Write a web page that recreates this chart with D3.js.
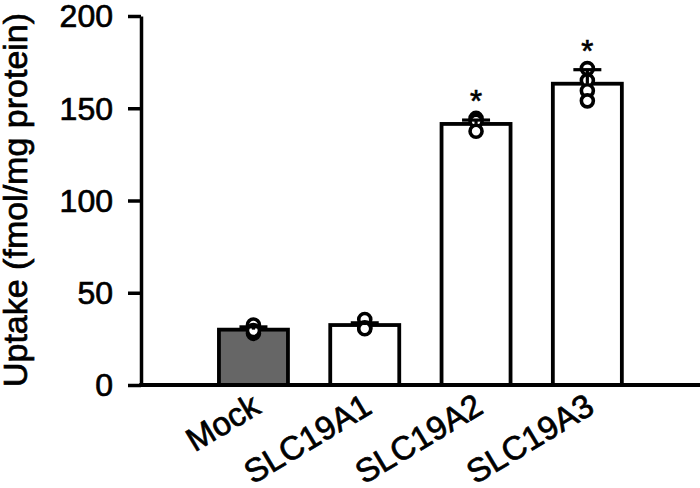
<!DOCTYPE html>
<html><head><meta charset="utf-8">
<script src="https://cdn.jsdelivr.net/npm/d3@7"></script>
<style>body{margin:0;background:#fff}svg{display:block}text{font-family:"Liberation Sans",Arial,sans-serif}</style>
</head><body>
<script>
const categories = ["Mock", "SLC19A1", "SLC19A2", "SLC19A3"];
const means = [30, 32.5, 141.5, 163.3];
const sds = [1.5, 1.2, 2.1, 7.6];
const points = [
  [32.5, 28, 29.5],
  [35.5, 31, 30.5],
  [144.5, 143, 137.5],
  [171.5, 165, 159.5, 154]
];
const significant = [false, false, true, true];
const fills = ["#666666", "#ffffff", "#ffffff", "#ffffff"];
const yTicks = [0, 50, 100, 150, 200];

const W = 700, H = 488;
const svg = d3.select("body").append("svg").attr("width", W).attr("height", H);

const y = d3.scaleLinear().domain([0, 200]).range([385, 16]);
const x = d3.scaleBand().domain(categories).range([197.8, 643]).paddingInner(0.38).paddingOuter(0.19);
const axisX = 141;
const txtStroke = 0.7;

// Y axis
const yAxis = svg.append("g").attr("transform", `translate(${axisX},0)`)
  .call(d3.axisLeft(y).tickValues(yTicks).tickSize(13).tickPadding(15).tickSizeOuter(0));
yAxis.select(".domain").attr("stroke", "#000").attr("stroke-width", 3.5);
yAxis.selectAll(".tick line").attr("stroke", "#000").attr("stroke-width", 3.5);
yAxis.selectAll(".tick text").attr("font-size", 32).attr("fill", "#000")
  .attr("stroke", "#000").attr("stroke-width", txtStroke).attr("dy", "0.34em")
  .attr("font-family", "'Liberation Sans', Arial, sans-serif");

// Y label
svg.append("text").attr("transform", "translate(27,200) rotate(-90)")
  .attr("text-anchor", "middle").attr("font-size", 34).attr("fill", "#000")
  .attr("stroke", "#000").attr("stroke-width", txtStroke)
  .text("Uptake (fmol/mg protein)");

// Bars
const g = svg.append("g");
g.selectAll("rect.bar").data(categories).join("rect").attr("class", "bar")
  .attr("x", d => x(d)).attr("width", x.bandwidth())
  .attr("y", (d, i) => y(means[i])).attr("height", (d, i) => y(0) - y(means[i]))
  .attr("fill", (d, i) => fills[i]).attr("stroke", "#000").attr("stroke-width", 3.8);

// X axis line
svg.append("line").attr("x1", axisX - 1.75).attr("x2", W).attr("y1", y(0)).attr("y2", y(0))
  .attr("stroke", "#000").attr("stroke-width", 3.8);

// X labels
svg.selectAll("text.xl").data(categories).join("text").attr("class", "xl")
  .attr("transform", d => `translate(${x(d) + x.bandwidth() / 2 + 9},412) rotate(-31)`)
  .attr("text-anchor", "end").attr("font-size", 33).attr("fill", "#000")
  .attr("stroke", "#000").attr("stroke-width", txtStroke).text(d => d);

// Points
const pts = [];
points.forEach((arr, i) => arr.forEach(v => pts.push({ c: categories[i], v })));
svg.selectAll("circle.pt").data(pts).join("circle").attr("class", "pt")
  .attr("cx", d => x(d.c) + x.bandwidth() / 2).attr("cy", d => y(d.v)).attr("r", 6)
  .attr("fill", "#fff").attr("stroke", "#000").attr("stroke-width", 3.6);

// Error bars
categories.forEach((c, i) => {
  const cx = x(c) + x.bandwidth() / 2;
  svg.append("line").attr("x1", cx).attr("x2", cx).attr("y1", y(means[i])).attr("y2", y(means[i] + sds[i]))
    .attr("stroke", "#000").attr("stroke-width", 3.2);
  svg.append("line").attr("x1", cx - 14).attr("x2", cx + 14).attr("y1", y(means[i] + sds[i])).attr("y2", y(means[i] + sds[i]))
    .attr("stroke", "#000").attr("stroke-width", 3.2);
  if (significant[i]) {
    svg.append("text").attr("x", cx).attr("y", y(means[i] + sds[i]) - 8)
      .attr("text-anchor", "middle").attr("font-size", 31).attr("fill", "#000")
      .attr("stroke", "#000").attr("stroke-width", txtStroke).text("*");
  }
});
</script>
</body></html>
